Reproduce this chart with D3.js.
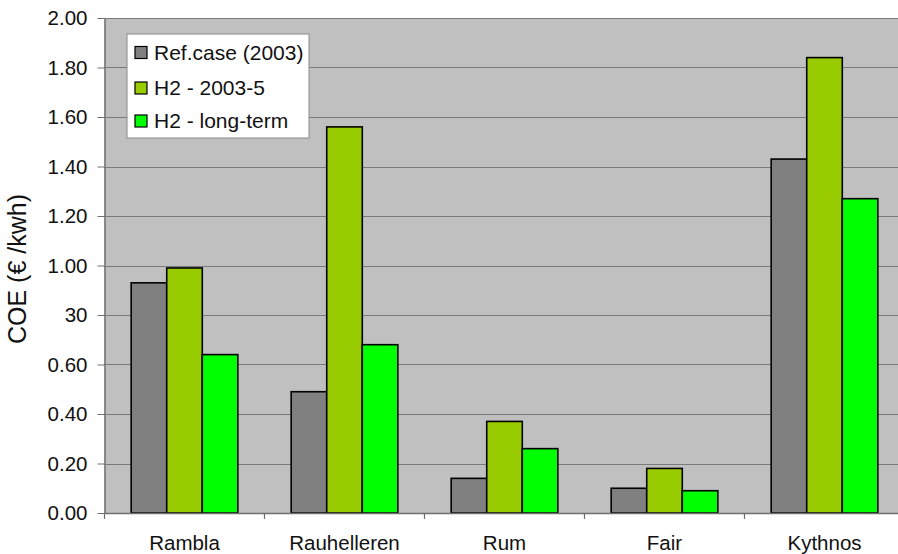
<!DOCTYPE html>
<html>
<head>
<meta charset="utf-8">
<script src="https://cdn.jsdelivr.net/npm/d3@7"></script>
<style>
  html, body { margin: 0; padding: 0; background: #ffffff; }
  svg { display: block; font-family: "Liberation Sans", Arial, sans-serif; }
</style>
</head>
<body>
<svg id="chart" width="898" height="554"></svg>
<script>
const categories = ["Rambla", "Rauhelleren", "Rum", "Fair", "Kythnos"];
const seriesNames = ["Ref.case (2003)", "H2 - 2003-5", "H2 - long-term"];
const refCase = [0.93, 0.49, 0.14, 0.10, 1.43];
const h2Current = [0.99, 1.56, 0.37, 0.18, 1.84];
const h2LongTerm = [0.64, 0.68, 0.26, 0.09, 1.27];
const tickValues = [0, 0.2, 0.4, 0.6, 0.8, 1.0, 1.2, 1.4, 1.6, 1.8, 2.0];
const tickLabels = ["0.00", "0.20", "0.40", "0.60", "30", "1.00", "1.20", "1.40", "1.60", "1.80", "2.00"];
const colors = ["#808080", "#99CC00", "#00FF00"];

const seriesValues = [refCase, h2Current, h2LongTerm];

const svg = d3.select("#chart");
const margin = { left: 104.5, top: 18, bottom: 41 };
const W = 898, H = 554;
const plotW = 800;
const plotH = H - margin.top - margin.bottom;

const x = d3.scaleBand().domain(categories).range([margin.left, margin.left + plotW]).paddingInner(0).paddingOuter(0);
const xInner = d3.scaleBand().domain(d3.range(seriesNames.length))
  .range([x.bandwidth() / 6, x.bandwidth() * 5 / 6]).padding(0);
const y = d3.scaleLinear().domain([0, 2]).range([margin.top + plotH, margin.top]);

// plot background
svg.append("rect")
  .attr("x", margin.left).attr("y", margin.top)
  .attr("width", plotW).attr("height", plotH)
  .attr("fill", "#C0C0C0");

// gridlines
svg.append("g").selectAll("line")
  .data(tickValues.filter(v => v > 0))
  .join("line")
  .attr("x1", margin.left).attr("x2", margin.left + plotW)
  .attr("y1", d => Math.round(y(d)) + 0.5).attr("y2", d => Math.round(y(d)) + 0.5)
  .attr("stroke", "#7a7a7a").attr("stroke-width", 1.2);

// bars
const groups = svg.append("g").selectAll("g")
  .data(categories)
  .join("g")
  .attr("transform", d => `translate(${x(d)},0)`);

groups.selectAll("rect")
  .data((c, ci) => seriesValues.map((vals, si) => ({ si, v: vals[ci] })))
  .join("rect")
  .attr("x", d => xInner(d.si))
  .attr("width", xInner.bandwidth())
  .attr("y", d => y(d.v))
  .attr("height", d => y(0) - y(d.v))
  .attr("fill", d => colors[d.si])
  .attr("stroke", "#000")
  .attr("stroke-width", 1.6);

const fontSize = 20.5;

// y axis
const yAxis = d3.axisLeft(y)
  .tickValues(tickValues)
  .tickFormat((d, i) => tickLabels[i])
  .tickSizeInner(7).tickSizeOuter(0).tickPadding(10);
const gy = svg.append("g").attr("transform", `translate(${margin.left},0)`).call(yAxis);
gy.select(".domain").attr("stroke", "#707070").attr("stroke-width", 1.5);
gy.selectAll(".tick line").attr("stroke", "#707070");
gy.selectAll(".tick text").attr("font-size", fontSize).attr("fill", "#111")
  .attr("font-family", "Liberation Sans, Arial, sans-serif");

// x axis
const xAxis = d3.axisBottom(x).tickSize(0).tickPadding(22);
const gx = svg.append("g").attr("transform", `translate(0,${y(0)})`).call(xAxis);
gx.select(".domain").attr("stroke", "#707070").attr("stroke-width", 1.5);
gx.selectAll(".tick text").attr("font-size", fontSize).attr("fill", "#111")
  .attr("font-family", "Liberation Sans, Arial, sans-serif");
// category separator tick marks
svg.append("g").selectAll("line")
  .data(categories)
  .join("line")
  .attr("x1", d => x(d)).attr("x2", d => x(d))
  .attr("y1", y(0)).attr("y2", y(0) + 6)
  .attr("stroke", "#707070").attr("stroke-width", 1.2);

// y axis title
svg.append("text")
  .attr("transform", `translate(26,269) rotate(-90)`)
  .attr("text-anchor", "middle")
  .attr("font-size", 25)
  .attr("fill", "#111")
  .text("COE (€ /kwh)");

// legend
const legend = svg.append("g").attr("transform", "translate(127,34)");
legend.append("rect")
  .attr("x", 0).attr("y", 0).attr("width", 182).attr("height", 104)
  .attr("fill", "#ffffff").attr("stroke", "#8a8a8a").attr("stroke-width", 1);
const rowY = [18.5, 54, 87];
const items = legend.selectAll("g.item")
  .data(seriesNames)
  .join("g")
  .attr("class", "item")
  .attr("transform", (d, i) => `translate(8,${rowY[i]})`);
items.append("rect")
  .attr("x", 0).attr("y", -6).attr("width", 12).attr("height", 12)
  .attr("fill", (d, i) => colors[i])
  .attr("stroke", "#000").attr("stroke-width", 1.2);
items.append("text")
  .attr("x", 19).attr("y", 0).attr("dy", "0.35em")
  .attr("font-size", 21).attr("fill", "#111")
  .text(d => d);
</script>
</body>
</html>
